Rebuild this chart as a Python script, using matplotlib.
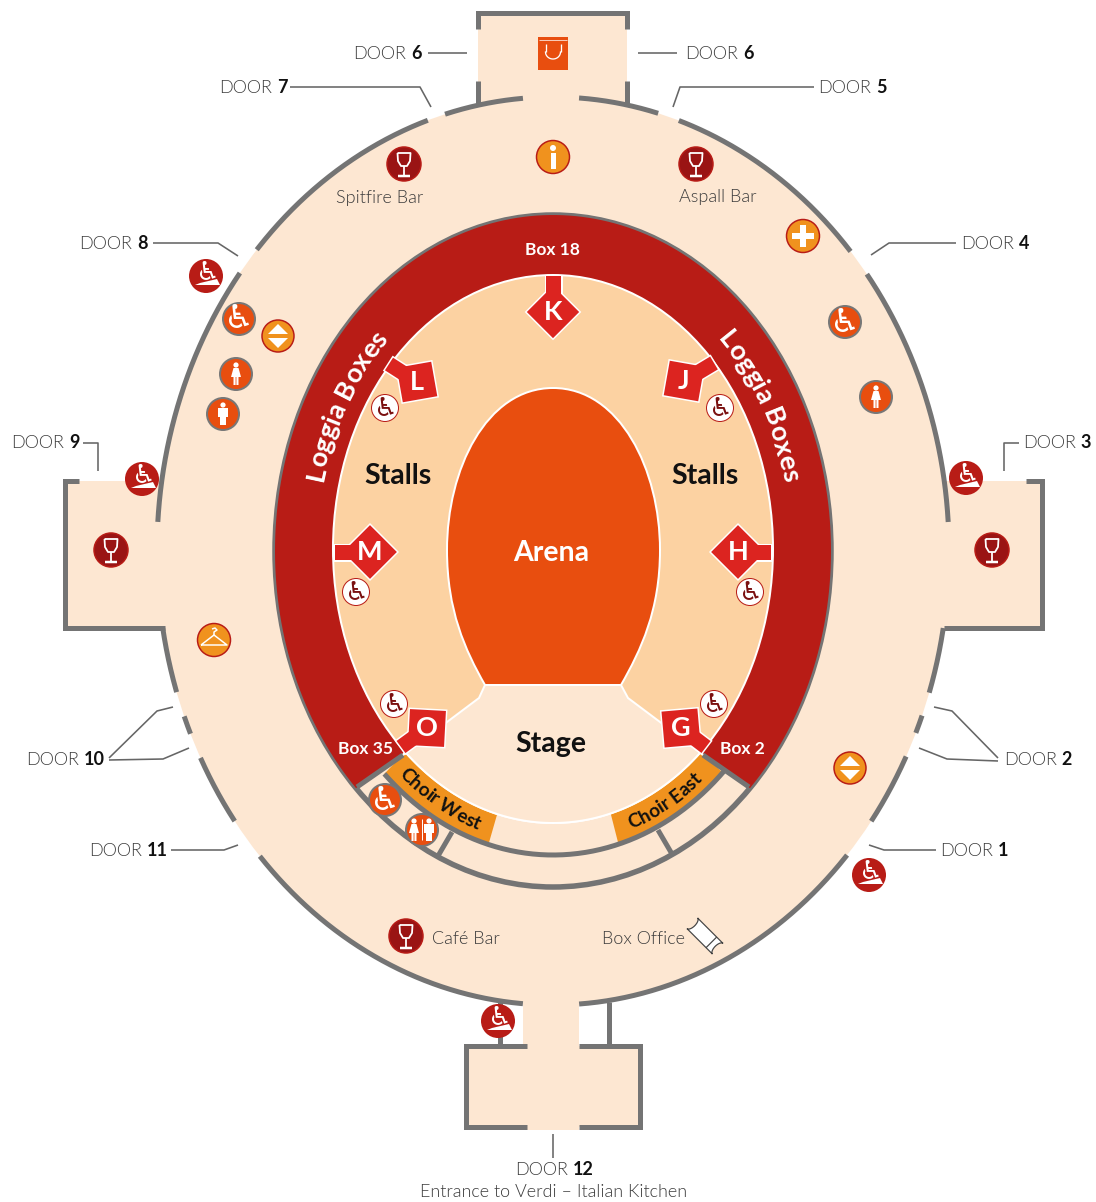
import numpy as np
import matplotlib
matplotlib.use("Agg")
import matplotlib.pyplot as plt
from matplotlib.patches import Polygon, Circle, Rectangle, PathPatch, Ellipse
from matplotlib.path import Path
from matplotlib.textpath import TextPath
from matplotlib.font_manager import FontProperties

FONT = "Lato"
PAGE = "#FDE7D2"; STALL = "#FCD2A2"; ARENA = "#E84E0F"; LOGGIA = "#B81C16"
TAG = "#DC2420"; WALL = "#747474"; CHOIR = "#F0921E"; DARK = "#9A1414"; TEXTC = "#3C3C3C"
LIGHT = 300

CX, CY = 553, 551
OUTER = (396, 454); LOG = (278, 336); INNER = (248, 304); ST = (220, 274); STCY = 549

door_numbers = ["6", "6", "7", "5", "8", "4", "9", "3", "10", "2", "11", "1", "12"]
door_x = [353, 685, 219, 818, 79, 961, 11, 1023, 26, 1004, 89, 940, 515]
door_y = [53, 53, 87, 87, 243, 243, 442, 442, 759, 759, 850, 850, 1169]
leaders = [
    [(428, 53), (467, 53)], [(638, 53), (677, 53)],
    [(290, 87), (420, 87), (431, 107)], [(814, 87), (680, 87), (673, 107)],
    [(153, 243), (218, 243), (238, 256)], [(956, 243), (889, 243), (871, 255)],
    [(83, 443), (98, 443), (98, 471)], [(1019, 443), (1004, 443), (1004, 471)],
    [(109, 758), (157, 711), (173, 707)], [(109, 760), (163, 759), (189, 748)],
    [(998, 758), (952, 711), (934, 707)], [(998, 761), (947, 759), (919, 748)],
    [(171, 850), (224, 850), (238, 845)], [(936, 850), (884, 850), (869, 845)],
    [(553, 1134), (553, 1158)],
]
wall_arcs = [
    ((523, 99), (445, 114)), ((428, 121), (257, 250)), ((241, 274), (159, 522)),
    ((163, 628), (177, 692)), ((185, 716), (192, 733)), ((202, 757), (236, 820)),
    ((261, 855), (523, 1002)), ((579, 1002), (847, 855)), ((871, 821), (907, 757)),
    ((916, 733), (923, 716)), ((930, 693), (943, 628)), ((948, 522), (867, 274)),
    ((852, 250), (679, 120)), ((658, 114), (579, 99)),
]
wall_lines = [
    [(478, 29), (478, 13), (627, 13), (627, 29)],
    [(478, 81), (478, 105)], [(627, 81), (627, 105)],
    [(79, 481), (65, 481), (65, 628), (165, 628)],
    [(1026, 481), (1042, 481), (1042, 628), (944, 628)],
    [(527, 1046), (466, 1046), (466, 1127), (527, 1127)],
    [(579, 1046), (640, 1046), (640, 1127), (579, 1127)],
    [(609, 1002), (609, 1046)], [(500, 1000), (500, 1046)],
    [(403, 755), (357, 787)], [(703, 755), (749, 787)],
    [(452, 832), (438, 856)], [(658, 830), (672, 854)],
]
tag_letters = ["K", "J", "H", "G", "O", "M", "L"]
tag_x = [553, 684, 738, 681, 427, 370, 417]
tag_y = [312, 381, 552, 728, 728, 552, 382]
tag_rot = [45, 10, 45, -5, 3, 45, -10]
tag_half = [18.5, 17.5, 19, 18, 18, 19, 17.5]
tag_stem_end = [(553, 276), (714, 363), (771, 552), (706, 747), (401, 747), (335, 552), (389, 364)]

big_labels = ["Stalls", "Stalls", "Arena", "Stage"]
big_x = [398, 705, 551, 551]; big_y = [476, 476, 553, 744]
big_col = ["#111111", "#111111", "white", "#111111"]
box_labels = ["Box 18", "Box 35", "Box 2"]
box_x = [552, 366, 742]; box_y = [250, 749, 749]
venue_labels = ["Spitfire Bar", "Aspall Bar", "Café Bar", "Box Office"]
venue_x = [380, 718, 466, 644]; venue_y = [198, 197, 939, 939]

bar_icons = [(404, 164), (696, 164), (111, 550), (992, 550), (406, 936)]
ramp_icons = [(206, 276), (142, 479), (966, 478), (869, 875), (498, 1021)]
access_icons = [(239, 319), (845, 322), (385, 800)]
female_icons = [(236, 374), (876, 397)]
male_icons = [(223, 414)]
white_access_icons = [(385, 408), (720, 408), (356, 592), (750, 592), (394, 704), (714, 704)]
lift_icons = [(278, 336), (850, 768)]

fig = plt.figure(figsize=(10.96, 12.02), dpi=100)
ax = fig.add_axes([0, 0, 1, 1])
ax.set_xlim(0, 1096); ax.set_ylim(1202, 0); ax.axis("off")
PT = 0.72


def ell(ab, t, cy=CY):
    t = np.radians(t)
    return CX + ab[0] * np.cos(t), cy - ab[1] * np.sin(t)


def ang(p, ab, cy=CY):
    return np.degrees(np.arctan2(-(p[1] - cy) / ab[1], (p[0] - CX) / ab[0]))


def arc_pts(ab, t0, t1, cy=CY, n=200):
    x, y = ell(ab, np.linspace(t0, t1, n), cy)
    return np.column_stack([x, y])


def poly(pts, **kw):
    kw.setdefault("lw", 0)
    ax.add_patch(Polygon(pts, closed=True, **kw))


# ---- floor
ax.add_patch(Ellipse((CX, CY), 2 * OUTER[0], 2 * OUTER[1], fc=PAGE, lw=0))
for x, y, w, h in [(478, 13, 149, 95), (65, 481, 110, 147), (930, 481, 112, 147),
                   (523, 990, 56, 140), (466, 1046, 174, 81)]:
    ax.add_patch(Rectangle((x, y), w, h, fc=PAGE, lw=0))

# ---- walls
for p0, p1 in wall_arcs:
    t0, t1 = ang(p0, OUTER), ang(p1, OUTER)
    d = (t1 - t0 + 180) % 360 - 180
    a = arc_pts(OUTER, t0, t0 + d)
    ax.plot(a[:, 0], a[:, 1], color=WALL, lw=5 * PT, solid_capstyle="butt")
for ln_pts in wall_lines:
    a = np.array(ln_pts)
    ax.plot(a[:, 0], a[:, 1], color=WALL, lw=5 * PT, solid_capstyle="butt", solid_joinstyle="miter")

# ---- inner building
ax.add_patch(Ellipse((CX, CY), 2 * LOG[0], 2 * LOG[1], fc="none", ec=WALL, lw=5.5 * PT))
t_l_out, t_l_in = ang((357, 787), LOG), ang((403, 755), ST, STCY)
t_r_out, t_r_in = ang((749, 787), LOG), ang((703, 755), ST, STCY)
outer_red = arc_pts(LOG, t_r_out, t_l_out + 360)
inner_red = arc_pts(ST, t_l_in + 360, t_r_in, STCY)
poly(np.vstack([outer_red, inner_red]), fc=LOGGIA)

# choir
a = arc_pts(INNER, ang((385, 773), INNER) + 360, 360 + ang((725, 773), INNER))
ax.plot(a[:, 0], a[:, 1], color=WALL, lw=5 * PT, solid_capstyle="butt", zorder=2.5)
for p_in, p_out, p_in2, p_out2 in [((403, 755), (385, 773), (497, 815), (489, 842)),
                                   ((611, 815), (618, 842), (703, 755), (723, 773))]:
    ti0, ti1 = ang(p_in, ST, STCY) % 360, ang(p_in2, ST, STCY) % 360
    to0, to1 = ang(p_out, INNER) % 360, ang(p_out2, INNER) % 360
    poly(np.vstack([arc_pts(ST, ti0, ti1, STCY), arc_pts(INNER, to1, to0)]), fc=CHOIR)

# stalls + stage
ax.add_patch(Ellipse((CX, STCY), 2 * ST[0], 2 * ST[1], fc=STALL, ec="white", lw=2 * PT))
stage_top = [(703, 755), (660, 722), (628, 698), (621, 685), (485, 685), (479, 698), (447, 722), (403, 755)]
stage_arc = arc_pts(ST, t_l_in + 360, t_r_in + 360, STCY)
poly(np.vstack([stage_top, stage_arc]), fc=PAGE, ec="white", lw=2 * PT)

# arena
verts = [(553, 388), (620, 388), (660, 470), (660, 550), (660, 610), (641, 650), (621, 685), (485, 685),
         (465, 650), (447, 610), (447, 550), (447, 470), (486, 388), (553, 388)]
codes = [Path.MOVETO, Path.CURVE4, Path.CURVE4, Path.CURVE4, Path.CURVE4, Path.CURVE4, Path.CURVE4, Path.LINETO,
         Path.CURVE4, Path.CURVE4, Path.CURVE4, Path.CURVE4, Path.CURVE4, Path.CURVE4]
ax.add_patch(PathPatch(Path(verts, codes), fc=ARENA, ec="white", lw=2 * PT))


# ---- curved text
def curved(s, ab, t0, t1, size, color, weight="bold", cy=CY):
    fp = FontProperties(family=FONT, weight=weight, size=size * 100 / 72)
    ts = np.linspace(t0, t1, 4000)
    x, y = ell(ab, ts, cy)
    L = np.concatenate([[0], np.cumsum(np.hypot(np.diff(x), np.diff(y)))])
    bar = TextPath((0, 0), "|", prop=fp).get_extents().x1
    adv = [TextPath((0, 0), s[:i] + "|", prop=fp).get_extents().x1 - bar for i in range(len(s) + 1)]
    off = (L[-1] - adv[-1]) / 2
    for i, ch in enumerate(s):
        if ch == " ":
            continue
        d = off + (adv[i] + adv[i + 1]) / 2
        px, py = np.interp(d, L, x), np.interp(d, L, y)
        j = min(max(np.searchsorted(L, d), 1), len(L) - 1)
        rot = np.degrees(np.arctan2(-(y[j] - y[j - 1]), x[j] - x[j - 1]))
        ax.text(px, py, ch, family=FONT, weight=weight, fontsize=size, color=color,
                rotation=rot, rotation_mode="anchor", ha="center", va="baseline", zorder=5)


BASE = (237, 293)
curved("Loggia Boxes", BASE, 176, 123, 19.5, "white")
curved("Loggia Boxes", BASE, 57, 4, 19.5, "white")
CH = (240, 296)
curved("Choir West", CH, 224.5, 257.5, 13.8, "#111111", cy=STCY)
curved("Choir East", CH, 282, 315, 13.8, "#111111", cy=STCY)

# ---- tags
for s, x, y, r, h, end in zip(tag_letters, tag_x, tag_y, tag_rot, tag_half, tag_stem_end):
    th = np.radians(r)
    c, sn = np.cos(th), np.sin(th)
    square = [(x + u * h * c - v * h * sn, y + u * h * sn + v * h * c) for u, v in [(-1, -1), (1, -1), (1, 1), (-1, 1)]]
    d = np.array(end) - np.array([x, y], float)
    d = d / np.hypot(*d); nrm = np.array([-d[1], d[0]])
    sw = 7.5
    base = np.array([x, y], float)
    stem = [base + nrm * sw, np.array(end) + nrm * sw, np.array(end) - nrm * sw, base - nrm * sw]
    poly(square, fc="none", ec="white", lw=3 * PT, zorder=3, joinstyle="miter")
    poly(stem, fc="none", ec="white", lw=3 * PT, zorder=3)
    poly(square, fc=TAG, zorder=3.1)
    poly(stem, fc=TAG, zorder=3.1)
    ax.text(x, y, s, family=FONT, weight="bold", fontsize=19.5, color="white", ha="center", va="center", zorder=3.2)


# ---- icons
def disc(p, fc, ec=None, r=17, lw=2):
    ax.add_patch(Circle(p, r, fc=fc, ec=ec if ec else "none", lw=lw * PT if ec else 0, zorder=4))


def ln(p, pts, color="white", lw=2):
    a = np.array(pts, float) + p
    ax.plot(a[:, 0], a[:, 1], color=color, lw=lw * PT, zorder=4.5, solid_capstyle="butt", solid_joinstyle="round")


def pg(p, pts, color="white"):
    poly(np.array(pts, float) + p, fc=color, zorder=4.5)


def chair(p, color, size, dy=0.0, dx=0.0):
    ax.text(p[0] + dx, p[1] + dy, "\u267f", family="DejaVu Sans", fontsize=size, color=color,
            ha="center", va="center", zorder=4.6)


for p in bar_icons:
    p = np.array(p)
    disc(p, DARK, LOGGIA, 17, 1.5)
    ln(p, [(-6.5, -11), (6.5, -11), (6, -3), (3, 2), (-3, 2), (-6, -3), (-6.5, -11)], lw=1.8)
    ln(p, [(0, 2), (0, 11)], lw=1.8)
    ln(p, [(-6, 12), (6, 12)], lw=2.5)
for p in ramp_icons:
    p = np.array(p)
    disc(p, LOGGIA, None, 17)
    chair(p, "white", 19, -4, 1)
    pg(p, [(-11, 9), (-6, 7), (11, 3), (14, 9)])
for p in access_icons:
    p = np.array(p)
    disc(p, "#E84E0F", "#777777", 16, 2)
    chair(p, "white", 24, 0)
for p in white_access_icons:
    p = np.array(p)
    disc(p, "white", LOGGIA, 13.5, 1)
    chair(p, "#7A1010", 19, 0)


def female(p, dx=0):
    p = p + np.array([dx, 0])
    ax.add_patch(Circle(p + (0, -9), 2.6, fc="white", lw=0, zorder=4.5))
    pg(p, [(-2.5, -6), (2.5, -6), (5, 3), (2.5, 3), (2.5, 11), (0.4, 11), (0.4, 3), (-0.4, 3), (-0.4, 11), (-2.5, 11), (-2.5, 3), (-5, 3)])


def male(p, dx=0):
    p = p + np.array([dx, 0])
    ax.add_patch(Circle(p + (0, -9), 2.6, fc="white", lw=0, zorder=4.5))
    pg(p, [(-5, -6), (5, -6), (5, 3), (3, 3), (3, 11), (0.4, 11), (0.4, 3), (-0.4, 3), (-0.4, 11), (-3, 11), (-3, 3), (-5, 3)])


for p in female_icons:
    p = np.array(p)
    disc(p, "#E84E0F", "#777777", 16, 2)
    female(p)
for p in male_icons:
    p = np.array(p)
    disc(p, "#E84E0F", "#777777", 16, 2)
    male(p)
p = np.array((422, 830))
disc(p, "#E84E0F", "#777777", 16, 2)
female(p, -8); male(p, 7)
ln(p, [(0, -11), (0, 10)], lw=1)

for p in lift_icons:
    p = np.array(p)
    disc(p, CHOIR, LOGGIA, 16, 1.5)
    pg(p, [(-10, -2), (10, -2), (0, -12)])
    pg(p, [(-10, 2), (10, 2), (0, 12)])

p = np.array((553, 157))
disc(p, CHOIR, LOGGIA, 16.5, 1.5)
ax.add_patch(Rectangle((p[0] - 2.5, p[1] - 4), 5, 16, fc="white", lw=0, zorder=4.5))
ax.add_patch(Circle((p[0], p[1] - 9), 3, fc="white", lw=0, zorder=4.5))
p = np.array((803, 236))
disc(p, CHOIR, LOGGIA, 16.5, 1.5)
ax.add_patch(Rectangle((p[0] - 3, p[1] - 11), 6, 22, fc="white", lw=0, zorder=4.5))
ax.add_patch(Rectangle((p[0] - 11, p[1] - 3), 22, 6, fc="white", lw=0, zorder=4.5))
p = np.array((214, 640))
disc(p, CHOIR, LOGGIA, 16.5, 1.5)
ln(p, [(-13, 5), (0, -5), (13, 5), (-13, 5)], lw=1.5)
ln(p, [(0, -5), (0, -8), (3, -10), (1, -12), (-2, -11)], lw=1.5)

# shop bag
ax.add_patch(Rectangle((538, 37), 30, 33, fc="#E84E0F", lw=0, zorder=4))
ln(np.array((553, 37)), [(-14, 3), (14, 3)], lw=0.7)
t = np.linspace(180, 360, 30)
ax.plot(553 + 7.5 * np.cos(np.radians(t)), 52 - 7 * np.sin(np.radians(t)), color="white", lw=1.3 * PT, zorder=4.5)
ln(np.array((553, 52)), [(-7.5, 0), (-7.5, -8)], lw=1.3)
ln(np.array((553, 52)), [(7.5, 0), (7.5, -8)], lw=1.3)

# ticket
p = np.array((705, 936))
th = np.radians(45); c, sn = np.cos(th), np.sin(th)
ang_s = np.radians(np.linspace(-90, 90, 12))
local = ([(-18, -7.5), (18, -7.5)]
         + [(18 - 3.5 * np.cos(a), 7.5 * np.sin(a)) for a in ang_s]
         + [(18, 7.5), (-18, 7.5)]
         + [(-18 + 3.5 * np.cos(a), -7.5 * np.sin(a)) for a in ang_s])
pts = [(u * c - v * sn, u * sn + v * c) for u, v in local]
poly(np.array(pts) + p, fc="white", ec="#444444", lw=1.2 * PT, zorder=4)
ln(p, [(9 * c + 7.5 * sn, 9 * sn - 7.5 * c), (9 * c - 7.5 * sn, 9 * sn + 7.5 * c)], color="#444444", lw=1.2)

# ---- text
for s, x, y, col in zip(big_labels, big_x, big_y, big_col):
    ax.text(x, y, s, family=FONT, weight="bold", fontsize=20.5, color=col, ha="center", va="center", zorder=5)
for s, x, y in zip(box_labels, box_x, box_y):
    ax.text(x, y, s, family=FONT, weight="bold", fontsize=12.5, color="white", ha="center", va="center", zorder=5)
for s, x, y in zip(venue_labels, venue_x, venue_y):
    ax.text(x, y, s, family=FONT, weight=LIGHT, fontsize=13, color=TEXTC, ha="center", va="center", zorder=5)

for ln_pts in leaders:
    a = np.array(ln_pts)
    ax.plot(a[:, 0], a[:, 1], color="#666666", lw=1.6 * PT, solid_capstyle="butt")

fig.canvas.draw()
rend = fig.canvas.get_renderer()
for n, x, y in zip(door_numbers, door_x, door_y):
    t = ax.text(x, y + 6, "DOOR", family=FONT, weight=LIGHT, fontsize=13, color=TEXTC, ha="left", va="baseline")
    w = t.get_window_extent(rend).width
    ax.text(x + w + 5, y + 6, n, family=FONT, weight="bold", fontsize=13, color="#111111", ha="left", va="baseline")
ax.text(554, 1192, "Entrance to Verdi \u2013 Italian Kitchen", family=FONT, weight=LIGHT, fontsize=13,
        color=TEXTC, ha="center", va="center")

fig.savefig("out.png", dpi=100)
